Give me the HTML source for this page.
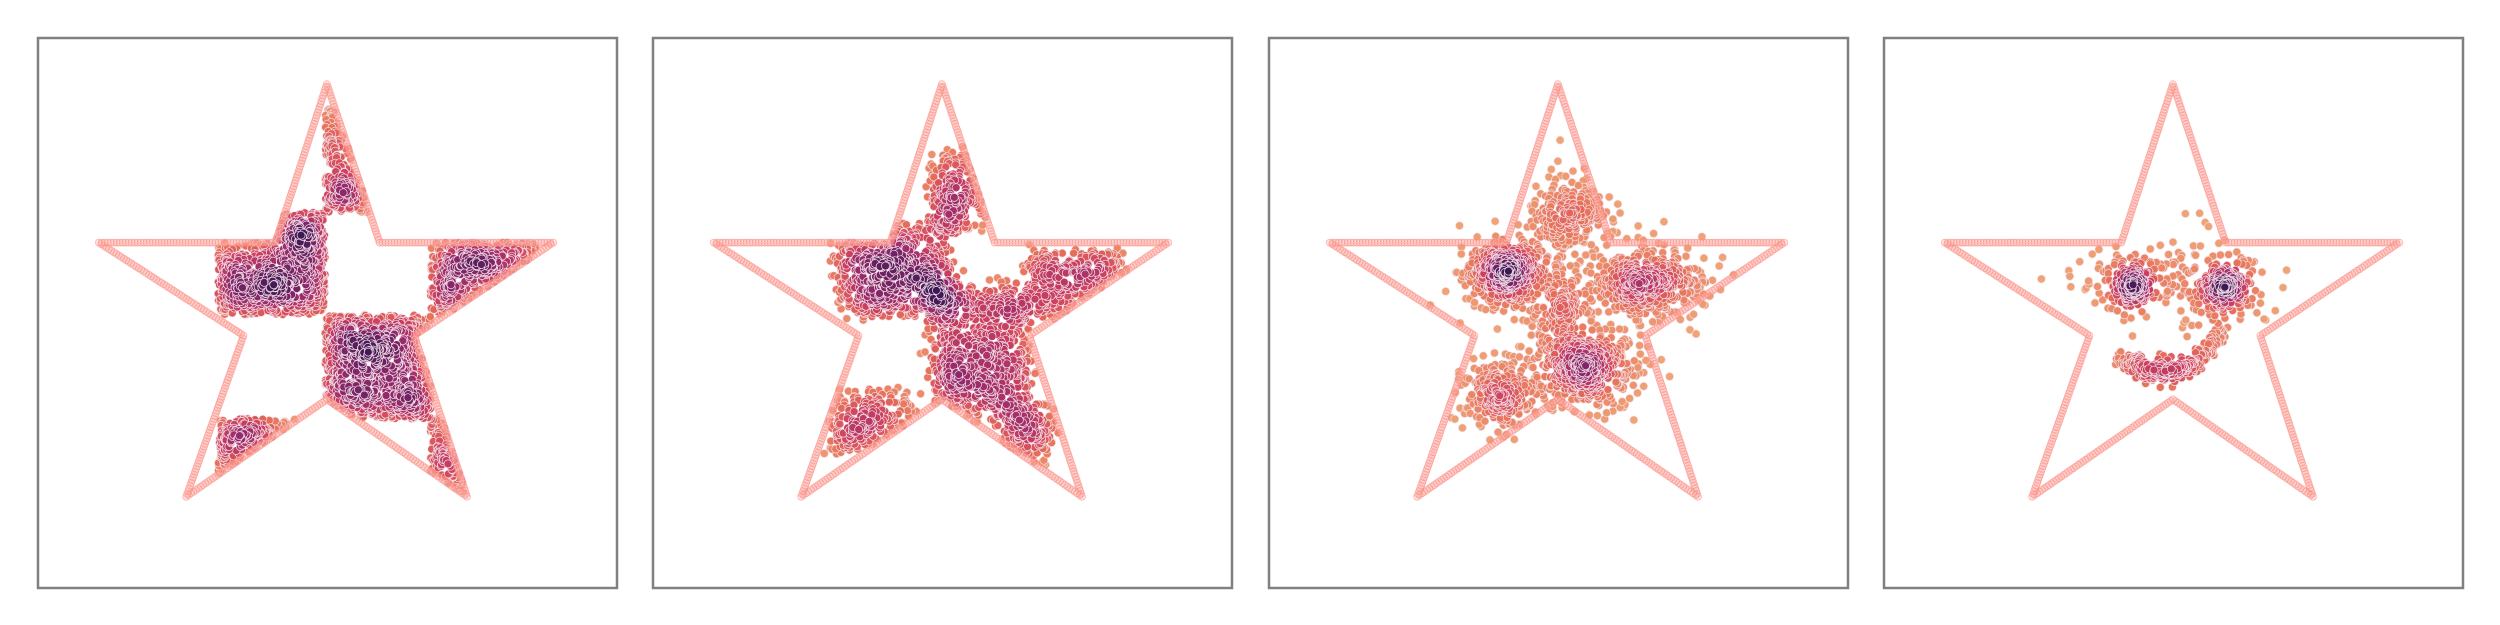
<!DOCTYPE html>
<html><head><meta charset="utf-8"><title>Star scatter panels</title>
<style>html,body{margin:0;padding:0;background:#fff;}svg{display:block;}</style></head>
<body>
<svg id="chart" width="2500" height="625" viewBox="0 0 2500 625" xmlns="http://www.w3.org/2000/svg">
<rect x="0" y="0" width="2500" height="625" fill="#fff"/>
</svg>
<script>
// ---- data (percent of panel box; y measured from top) ----
const panelLeft = [38, 653, 1269, 1884];
const panelTop = 38;
const panelW = 579;
const panelH = 550;
const starX = [49.9, 59.0, 89.0, 65.0, 74.1, 49.9, 25.6, 35.5, 10.5, 41.0];
const starY = [8.4, 37.2, 37.2, 54.1, 83.4, 65.7, 83.4, 54.1, 37.2, 37.2];
// panel 1 checkerboard
const colEdges = [31.1, 49.6, 67.8, 86.2];
const rowEdges = [12.8, 31.7, 50.3, 69.2, 88.1];
const cellCol = [1, 0, 2, 1, 0, 2];
const cellRow = [0, 1, 1, 2, 3, 3];
const cellCount = [900, 900, 900, 900, 900, 900];
// panel 2 diffused rectangles
const p2x0 = [32, 48, 64.5, 48, 30, 60];
const p2x1 = [51, 65, 81.5, 57, 45, 69];
const p2y0 = [34, 45, 39, 21, 64, 67];
const p2y1 = [50, 69, 51, 35, 75, 77];
const p2n  = [700, 760, 380, 240, 260, 150];
// panel 3 blobs
const p3cx = [41.2, 65.5, 54.7, 39.6, 51.7, 51.0];
const p3cy = [42.9, 44.5, 60.0, 65.0, 32.0, 50.0];
const p3sx = [3.6, 4.8, 4.5, 3.2, 3.5, 3.0];
const p3sy = [3.0, 3.2, 3.6, 3.2, 3.5, 4.0];
const p3n  = [450, 450, 500, 250, 230, 180];
// panel 4 face: eyes + mouth
const p4cx = [42.7, 42.7, 59.2, 56.5];
const p4cy = [45.0, 45.0, 45.0, 45.0];
const p4sx = [1.8, 4.5, 1.8, 5.5];
const p4sy = [1.8, 3.5, 1.8, 4.0];
const p4n  = [140, 110, 140, 160];
const mouthX = [41.3, 45.0, 49.1, 54.0, 58.5];
const mouthY = [57.9, 60.8, 61.0, 59.0, 53.2];
const mouthN = 260;

// ---- helpers ----
const svg = document.getElementById('chart');
const NS = 'http://www.w3.org/2000/svg';
function X(p, v) { return panelLeft[p] + v / 100 * panelW; }
function Y(v) { return panelTop + v / 100 * panelH; }
let seed = 12345;
function rnd() { seed |= 0; seed = seed + 0x6D2B79F5 | 0; let t = Math.imul(seed ^ seed >>> 15, 1 | seed); t = t + Math.imul(t ^ t >>> 7, 61 | t) ^ t; return ((t ^ t >>> 14) >>> 0) / 4294967296; }
function gauss() { let u = rnd() || 1e-9, v = rnd(); return Math.sqrt(-2 * Math.log(u)) * Math.cos(2 * Math.PI * v); }
function inStar(x, y) {
  let c = false, n = starX.length;
  for (let i = 0, j = n - 1; i < n; j = i++) {
    if (((starY[i] > y) !== (starY[j] > y)) && (x < (starX[j] - starX[i]) * (y - starY[i]) / (starY[j] - starY[i]) + starX[i])) c = !c;
  }
  return c;
}
const stops = [[0, [240, 165, 118]], [0.3, [232, 112, 88]], [0.55, [206, 64, 94]], [0.78, [150, 42, 108]], [1, [60, 24, 86]]];
function cmap(t) {
  t = Math.max(0, Math.min(1, t));
  for (let i = 1; i < stops.length; i++) {
    if (t <= stops[i][0]) {
      const a = stops[i - 1], b = stops[i], f = (t - a[0]) / (b[0] - a[0]);
      const c = a[1].map((v, k) => Math.round(v + (b[1][k] - v) * f));
      return 'rgb(' + c.join(',') + ')';
    }
  }
  return 'rgb(60,24,86)';
}

function drawFrame(p) {
  const r = document.createElementNS(NS, 'rect');
  r.setAttribute('x', panelLeft[p]); r.setAttribute('y', panelTop);
  r.setAttribute('width', panelW); r.setAttribute('height', panelH);
  r.setAttribute('fill', 'none'); r.setAttribute('stroke', '#808080'); r.setAttribute('stroke-width', '2.5');
  
  
  svg.appendChild(r);
}

function drawPoints(p, pts, gamma) {
  const px = pts.map(q => [X(p, q[0]), Y(q[1])]);
  const R = 26, cell = {};
  px.forEach((q, i) => { const k = Math.floor(q[0] / R) + ',' + Math.floor(q[1] / R); (cell[k] = cell[k] || []).push(i); });
  const dens = px.map(q => {
    let c = 0; const gx = Math.floor(q[0] / R), gy = Math.floor(q[1] / R);
    for (let dx = -1; dx <= 1; dx++) for (let dy = -1; dy <= 1; dy++) {
      const l = cell[(gx + dx) + ',' + (gy + dy)]; if (!l) continue;
      l.forEach(j => { const a = px[j][0] - q[0], b = px[j][1] - q[1]; const d2 = a * a + b * b; if (d2 < R * R) c += 1 - d2 / (R * R); });
    }
    return c;
  });
  const mx = Math.max.apply(null, dens);
  const order = px.map((_, i) => i).sort((a, b) => dens[a] - dens[b]);
  const g = document.createElementNS(NS, 'g');
  
  
  order.forEach(i => {
    const c = document.createElementNS(NS, 'circle');
    c.setAttribute('cx', px[i][0].toFixed(1)); c.setAttribute('cy', px[i][1].toFixed(1)); c.setAttribute('r', '4');
    c.setAttribute('fill', cmap(Math.pow(dens[i] / mx, gamma)));
    c.setAttribute('stroke', '#f2dde6'); c.setAttribute('stroke-width', '0.7');
    
    
    g.appendChild(c);
  });
  svg.appendChild(g);
}

function drawOutline(p) {
  const g = document.createElementNS(NS, 'g');
  
  
  const n = starX.length;
  for (let i = 0; i < n; i++) {
    const j = (i + 1) % n;
    const x0 = X(p, starX[i]), y0 = Y(starY[i]), x1 = X(p, starX[j]), y1 = Y(starY[j]);
    const L = Math.hypot(x1 - x0, y1 - y0), m = Math.ceil(L / 3);
    for (let k = 0; k < m; k++) {
      const f = k / m;
      const c = document.createElementNS(NS, 'circle');
      c.setAttribute('cx', (x0 + (x1 - x0) * f).toFixed(1)); c.setAttribute('cy', (y0 + (y1 - y0) * f).toFixed(1));
      c.setAttribute('r', '3.5'); c.setAttribute('fill', 'rgba(255,175,165,0.35)');
      c.setAttribute('stroke', 'rgba(248,130,120,0.55)'); c.setAttribute('stroke-width', '0.8');
      
      
      g.appendChild(c);
    }
  }
  svg.appendChild(g);
}

function blobs(cx, cy, sx, sy, nn, clip) {
  const out = [];
  for (let b = 0; b < cx.length; b++) for (let k = 0; k < nn[b]; k++) {
    const x = cx[b] + gauss() * sx[b], y = cy[b] + gauss() * sy[b];
    if (!clip || inStar(x, y)) out.push([x, y]);
  }
  return out;
}

// panel 1
let pts1 = [];
for (let c = 0; c < cellCol.length; c++) {
  const x0 = colEdges[cellCol[c]], x1 = colEdges[cellCol[c] + 1], y0 = rowEdges[cellRow[c]], y1 = rowEdges[cellRow[c] + 1];
  for (let k = 0; k < cellCount[c]; k++) {
    const x = x0 + rnd() * (x1 - x0), y = y0 + rnd() * (y1 - y0);
    if (inStar(x, y)) pts1.push([x, y]);
  }
}
drawFrame(0); drawPoints(0, pts1, 1.1); drawOutline(0);
// panel 2
let pts2 = [];
for (let b = 0; b < p2x0.length; b++) for (let k = 0; k < p2n[b]; k++) {
  const x = p2x0[b] + rnd() * (p2x1[b] - p2x0[b]) + gauss() * 0.9;
  const y = p2y0[b] + rnd() * (p2y1[b] - p2y0[b]) + gauss() * 0.9;
  if (inStar(x, y)) pts2.push([x, y]);
}
drawFrame(1); drawPoints(1, pts2, 1.1); drawOutline(1);
// panel 3
drawFrame(2); drawPoints(2, blobs(p3cx, p3cy, p3sx, p3sy, p3n, false), 1.2); drawOutline(2);
// panel 4
let pts4 = blobs(p4cx, p4cy, p4sx, p4sy, p4n, false);
for (let k = 0; k < mouthN; k++) {
  const t = rnd() * (mouthX.length - 1), i = Math.min(Math.floor(t), mouthX.length - 2), f = t - i;
  pts4.push([mouthX[i] + (mouthX[i + 1] - mouthX[i]) * f + gauss() * 0.9, mouthY[i] + (mouthY[i + 1] - mouthY[i]) * f + gauss() * 1.0]);
}
drawFrame(3); drawPoints(3, pts4, 1.1); drawOutline(3);
</script>
</body></html>
